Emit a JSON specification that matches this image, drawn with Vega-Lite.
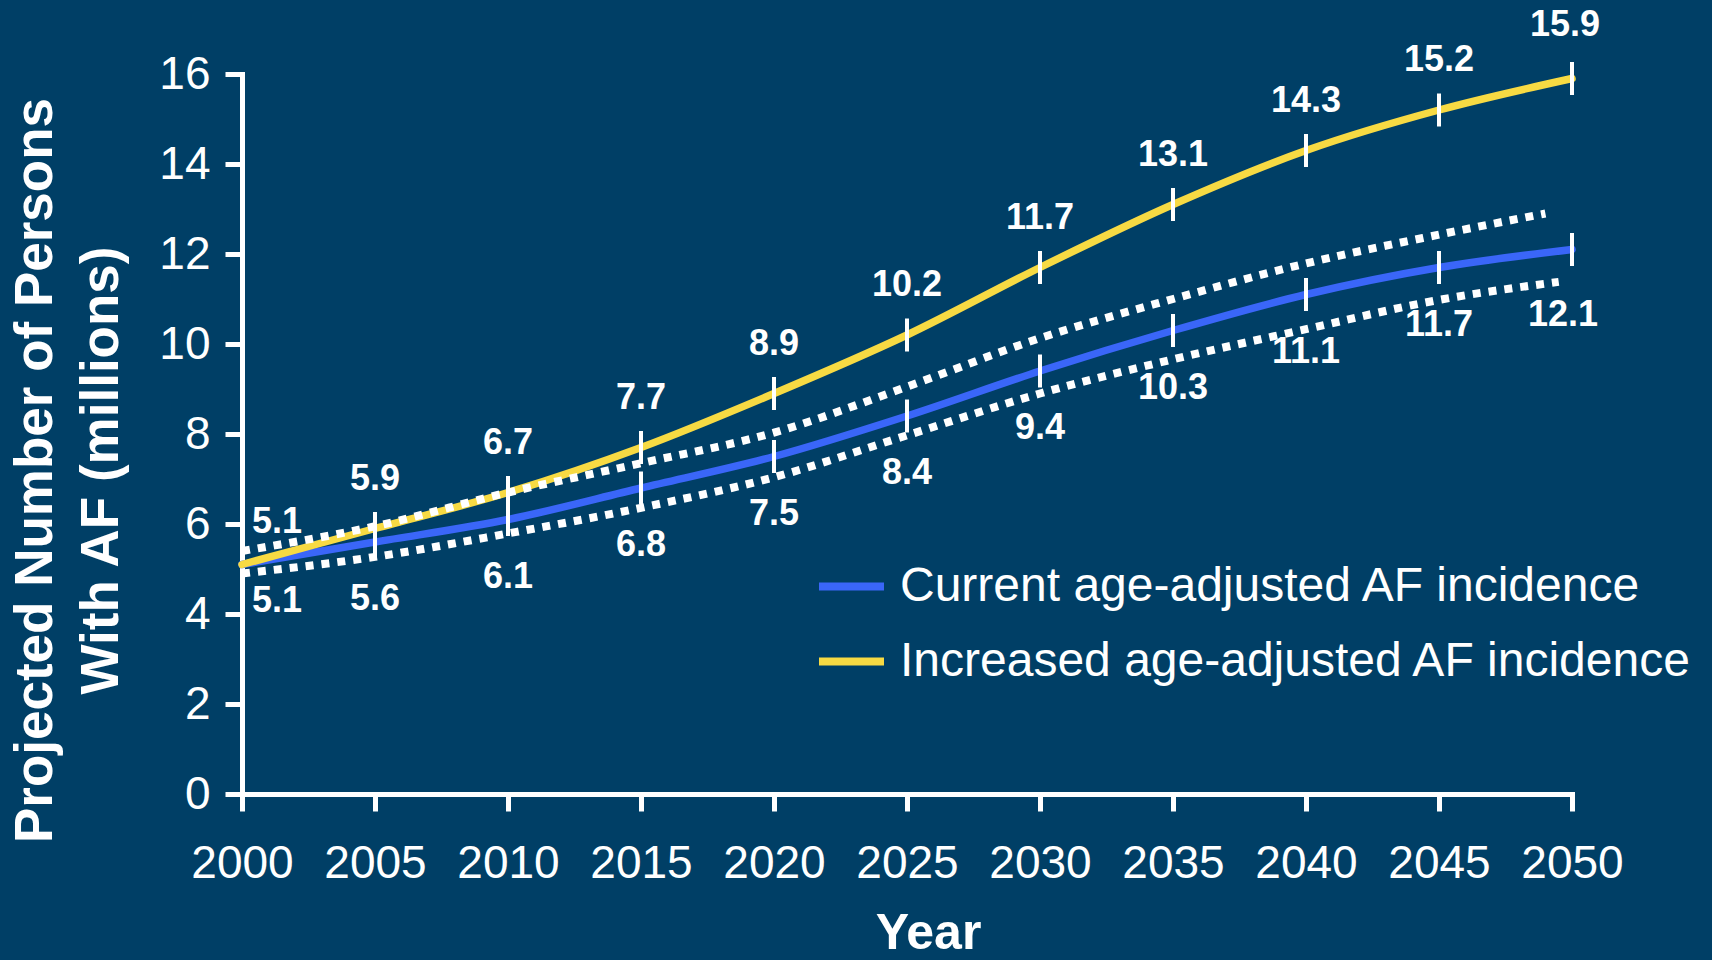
{
  "$schema": "https://vega.github.io/schema/vega-lite/v6.json",
  "width": 1330,
  "height": 720,
  "autosize": {"type": "none"},
  "padding": {"left": 242, "top": 74, "right": 140, "bottom": 166},
  "background": "#003F66",
  "config": {"view": {"stroke": null}, "font": "Liberation Sans"},
  "datasets": {
    "main": [
      {"year": 2000, "series": "Current age-adjusted AF incidence", "persons": 5.1},
      {"year": 2005, "series": "Current age-adjusted AF incidence", "persons": 5.6},
      {"year": 2010, "series": "Current age-adjusted AF incidence", "persons": 6.1},
      {"year": 2015, "series": "Current age-adjusted AF incidence", "persons": 6.8},
      {"year": 2020, "series": "Current age-adjusted AF incidence", "persons": 7.5},
      {"year": 2025, "series": "Current age-adjusted AF incidence", "persons": 8.4},
      {"year": 2030, "series": "Current age-adjusted AF incidence", "persons": 9.4},
      {"year": 2035, "series": "Current age-adjusted AF incidence", "persons": 10.3},
      {"year": 2040, "series": "Current age-adjusted AF incidence", "persons": 11.1},
      {"year": 2045, "series": "Current age-adjusted AF incidence", "persons": 11.7},
      {"year": 2050, "series": "Current age-adjusted AF incidence", "persons": 12.1},
      {"year": 2000, "series": "Increased age-adjusted AF incidence", "persons": 5.1},
      {"year": 2005, "series": "Increased age-adjusted AF incidence", "persons": 5.9},
      {"year": 2010, "series": "Increased age-adjusted AF incidence", "persons": 6.7},
      {"year": 2015, "series": "Increased age-adjusted AF incidence", "persons": 7.7},
      {"year": 2020, "series": "Increased age-adjusted AF incidence", "persons": 8.9},
      {"year": 2025, "series": "Increased age-adjusted AF incidence", "persons": 10.2},
      {"year": 2030, "series": "Increased age-adjusted AF incidence", "persons": 11.7},
      {"year": 2035, "series": "Increased age-adjusted AF incidence", "persons": 13.1},
      {"year": 2040, "series": "Increased age-adjusted AF incidence", "persons": 14.3},
      {"year": 2045, "series": "Increased age-adjusted AF incidence", "persons": 15.2},
      {"year": 2050, "series": "Increased age-adjusted AF incidence", "persons": 15.9}
    ],
    "bounds": [
      {"year": 2000, "bound": "upper", "persons": 5.40},
      {"year": 2005, "bound": "upper", "persons": 5.95},
      {"year": 2010, "bound": "upper", "persons": 6.70},
      {"year": 2015, "bound": "upper", "persons": 7.35},
      {"year": 2020, "bound": "upper", "persons": 8.03},
      {"year": 2025, "bound": "upper", "persons": 9.05},
      {"year": 2030, "bound": "upper", "persons": 10.13},
      {"year": 2035, "bound": "upper", "persons": 11.00},
      {"year": 2040, "bound": "upper", "persons": 11.79},
      {"year": 2045, "bound": "upper", "persons": 12.43},
      {"year": 2049, "bound": "upper", "persons": 12.90},
      {"year": 2000, "bound": "lower", "persons": 4.90},
      {"year": 2005, "bound": "lower", "persons": 5.27},
      {"year": 2010, "bound": "lower", "persons": 5.79},
      {"year": 2015, "bound": "lower", "persons": 6.36},
      {"year": 2020, "bound": "lower", "persons": 7.04},
      {"year": 2025, "bound": "lower", "persons": 7.97},
      {"year": 2030, "bound": "lower", "persons": 8.90},
      {"year": 2035, "bound": "lower", "persons": 9.66},
      {"year": 2040, "bound": "lower", "persons": 10.33},
      {"year": 2045, "bound": "lower", "persons": 10.98},
      {"year": 2049.5, "bound": "lower", "persons": 11.38}
    ]
  },
  "encoding": {
    "x": {
      "field": "year",
      "type": "quantitative",
      "scale": {"domain": [2000, 2050], "nice": false, "zero": false},
      "axis": {
        "values": [2000, 2005, 2010, 2015, 2020, 2025, 2030, 2035, 2040, 2045, 2050],
        "format": "d",
        "grid": false,
        "domainColor": "white",
        "domainWidth": 5,
        "domainCap": "square",
        "tickColor": "white",
        "tickWidth": 5,
        "tickSize": 17,
        "labelColor": "white",
        "labelFont": "Liberation Sans",
        "labelFontSize": 46,
        "labelPadding": 30,
        "labelFlush": false,
        "labelOverlap": false,
        "title": "Year",
        "titleColor": "white",
        "titleFont": "Liberation Sans",
        "titleFontSize": 50,
        "titleFontWeight": "bold",
        "titleX": 686,
        "titleY": 154,
        "titleAlign": "center",
        "titleBaseline": "alphabetic"
      }
    },
    "y": {
      "field": "persons",
      "type": "quantitative",
      "scale": {"domain": [0, 16], "nice": false},
      "axis": {
        "values": [0, 2, 4, 6, 8, 10, 12, 14, 16],
        "grid": false,
        "domainColor": "white",
        "domainWidth": 5,
        "domainCap": "square",
        "tickColor": "white",
        "tickWidth": 5,
        "tickSize": 17,
        "labelColor": "white",
        "labelFont": "Liberation Sans",
        "labelFontSize": 46,
        "labelPadding": 15,
        "labelOverlap": false,
        "labelFlush": false,
        "title": ["Projected Number of Persons", "With AF (millions)"],
        "titleColor": "white",
        "titleFont": "Liberation Sans",
        "titleFontSize": 53,
        "titleFontWeight": "bold",
        "titleAngle": 270,
        "titleX": -233,
        "titleY": 396,
        "titleAlign": "center",
        "titleBaseline": "top",
        "titleLineHeight": 66
      }
    }
  },
  "layer": [
    {
      "data": {"name": "main"},
      "mark": {"type": "line", "strokeWidth": 7.5, "strokeCap": "round", "interpolate": "monotone"},
      "encoding": {
        "color": {
          "field": "series",
          "type": "nominal",
          "scale": {
            "domain": ["Current age-adjusted AF incidence", "Increased age-adjusted AF incidence"],
            "range": ["#3A66F8", "#F7DA43"]
          },
          "legend": {
            "orient": "none",
            "legendX": 573,
            "legendY": 476,
            "title": null,
            "symbolType": "stroke",
            "symbolStrokeWidth": 8,
            "symbolSize": 4225,
            "labelFont": "Liberation Sans",
            "labelFontSize": 48,
            "labelColor": "white",
            "labelOffset": 12,
            "labelLimit": 2000,
            "rowPadding": 14,
            "padding": 0
          }
        }
      }
    },
    {
      "data": {"name": "bounds"},
      "mark": {"type": "line", "color": "white", "strokeWidth": 8, "strokeDash": [8, 8], "strokeCap": "butt", "interpolate": "monotone"},
      "encoding": {"detail": {"field": "bound", "type": "nominal"}}
    },
    {
      "data": {"name": "main"},
      "transform": [{"filter": "datum.year > 2000"}],
      "mark": {"type": "tick", "orient": "vertical", "color": "white", "size": 33, "thickness": 4, "opacity": 1},
      "encoding": {"detail": {"field": "series", "type": "nominal"}}
    },
    {
      "data": {"name": "main"},
      "transform": [{"filter": "datum.series == 'Increased age-adjusted AF incidence' && datum.year > 2000 && datum.year < 2050"}],
      "mark": {"type": "text", "color": "white", "font": "Liberation Sans", "fontSize": 36, "fontWeight": "bold", "align": "center", "baseline": "middle", "dy": -50},
      "encoding": {"text": {"field": "persons", "type": "quantitative", "format": ".1f"}}
    },
    {
      "data": {"name": "main"},
      "transform": [{"filter": "datum.series == 'Increased age-adjusted AF incidence' && datum.year == 2000"}],
      "mark": {"type": "text", "color": "white", "font": "Liberation Sans", "fontSize": 36, "fontWeight": "bold", "align": "left", "baseline": "middle", "dx": 10, "dy": -43},
      "encoding": {"text": {"field": "persons", "type": "quantitative", "format": ".1f"}}
    },
    {
      "data": {"name": "main"},
      "transform": [{"filter": "datum.series == 'Increased age-adjusted AF incidence' && datum.year == 2050"}],
      "mark": {"type": "text", "color": "white", "font": "Liberation Sans", "fontSize": 36, "fontWeight": "bold", "align": "center", "baseline": "middle", "dx": -7, "dy": -54},
      "encoding": {"text": {"field": "persons", "type": "quantitative", "format": ".1f"}}
    },
    {
      "data": {"name": "main"},
      "transform": [{"filter": "datum.series == 'Current age-adjusted AF incidence' && datum.year > 2000 && datum.year < 2050"}],
      "mark": {"type": "text", "color": "white", "font": "Liberation Sans", "fontSize": 36, "fontWeight": "bold", "align": "center", "baseline": "middle", "dy": 57},
      "encoding": {"text": {"field": "persons", "type": "quantitative", "format": ".1f"}}
    },
    {
      "data": {"name": "main"},
      "transform": [{"filter": "datum.series == 'Current age-adjusted AF incidence' && datum.year == 2000"}],
      "mark": {"type": "text", "color": "white", "font": "Liberation Sans", "fontSize": 36, "fontWeight": "bold", "align": "left", "baseline": "middle", "dx": 10, "dy": 36},
      "encoding": {"text": {"field": "persons", "type": "quantitative", "format": ".1f"}}
    },
    {
      "data": {"name": "main"},
      "transform": [{"filter": "datum.series == 'Current age-adjusted AF incidence' && datum.year == 2050"}],
      "mark": {"type": "text", "color": "white", "font": "Liberation Sans", "fontSize": 36, "fontWeight": "bold", "align": "center", "baseline": "middle", "dx": -9, "dy": 65},
      "encoding": {"text": {"field": "persons", "type": "quantitative", "format": ".1f"}}
    }
  ]
}
